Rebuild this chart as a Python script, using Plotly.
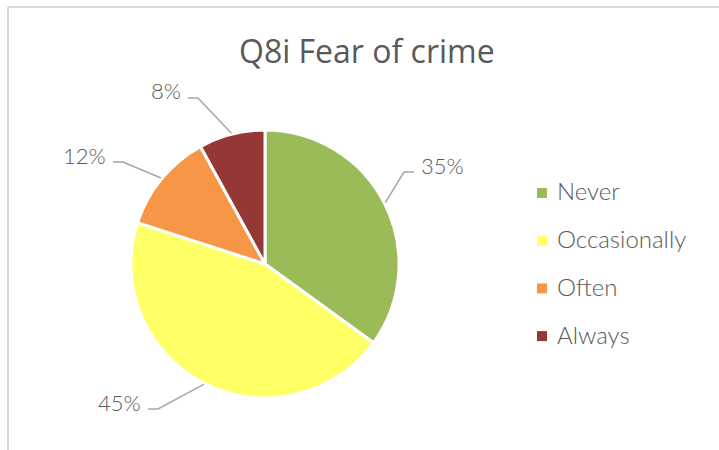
import math
import plotly.graph_objects as go

# ---- data ----
categories = ["Never", "Occasionally", "Often", "Always"]
values = [35, 45, 12, 8]
colors = ["#9BBB59", "#FFFF66", "#F79646", "#953735"]
title_text = "Q8i Fear of crime"

# ---- layout (pixels) ----
W, H = 719, 450
CX, CY, R = 265, 264, 134
# label elbow points (layout positions for the data labels)
label_elbows = [(404, 172), (158, 409), (123, 162), (198, 98)]
TEXT_GRAY = "#595959"
LINE_GRAY = "#A6A6A6"

def px(x):
    return x / W

def py(y):
    return 1 - y / H

fig = go.Figure()
fig.add_trace(go.Pie(
    labels=categories,
    values=values,
    sort=False,
    direction="clockwise",
    rotation=0,
    marker=dict(colors=colors, line=dict(color="white", width=3)),
    textinfo="none",
    hoverinfo="label+percent",
    showlegend=False,
    domain=dict(x=[px(CX - R), px(CX + R)], y=[py(CY + R), py(CY - R)]),
))

shapes = []
annotations = []
total = sum(values)
cum = 0
for i, v in enumerate(values):
    mid = (cum + v / 2) / total * 2 * math.pi
    cum += v
    sx = CX + (R + 1) * math.sin(mid)
    sy = CY - (R + 1) * math.cos(mid)
    ex, ey = label_elbows[i]
    right = math.sin(mid) >= 0
    hx = ex + 10 if right else ex - 10
    shapes.append(dict(type="path", xref="paper", yref="paper",
                       path=f"M {px(sx)} {py(sy)} L {px(ex)} {py(ey)} L {px(hx)} {py(ey)}",
                       line=dict(color=LINE_GRAY, width=1.5)))
    pct = round(v / total * 100)
    annotations.append(dict(
        x=px(hx + (5 if right else -5)), y=py(ey - 7), xref="paper", yref="paper",
        text=f"{pct}%", showarrow=False,
        xanchor="left" if right else "right", yanchor="middle",
        font=dict(family="Lato", size=22, color=TEXT_GRAY, weight=300)))

# manual legend
for i, (c, col) in enumerate(zip(categories, colors)):
    yc = 193 + i * 47.7
    shapes.append(dict(type="rect", xref="paper", yref="paper",
                       x0=px(537), x1=px(547), y0=py(yc + 5), y1=py(yc - 5),
                       fillcolor=col, line=dict(width=0)))
    annotations.append(dict(
        x=px(555), y=py(yc - 2), xref="paper", yref="paper", text=c, showarrow=False,
        xanchor="left", yanchor="middle",
        font=dict(family="Lato", size=24, color=TEXT_GRAY, weight=300)))

# title
annotations.append(dict(
    x=px(367), y=py(50), xref="paper", yref="paper", text=title_text, showarrow=False,
    xanchor="center", yanchor="middle",
    font=dict(family="Open Sans", size=32, color=TEXT_GRAY)))

# chart border (top and left visible)
shapes.append(dict(type="line", xref="paper", yref="paper",
                   x0=px(8), x1=1.01, y0=py(7), y1=py(7),
                   line=dict(color="#D9D9D9", width=2)))
shapes.append(dict(type="line", xref="paper", yref="paper",
                   x0=px(8), x1=px(8), y0=py(7), y1=-0.01,
                   line=dict(color="#D9D9D9", width=2)))

fig.update_layout(
    width=W, height=H,
    margin=dict(l=0, r=0, t=0, b=0),
    paper_bgcolor="white", plot_bgcolor="white",
    shapes=shapes, annotations=annotations,
)
fig.write_html("out.html",
               config={"displayModeBar": False},
               post_script="document.body.style.margin='0';document.body.style.overflow='hidden';")
